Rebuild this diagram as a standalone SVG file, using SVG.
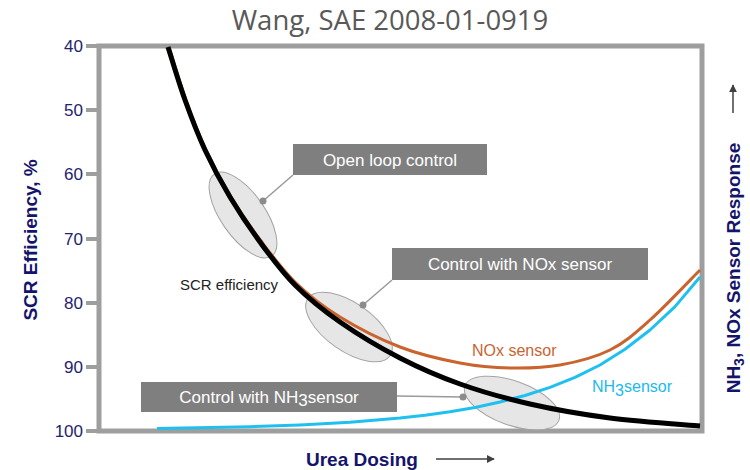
<svg xmlns="http://www.w3.org/2000/svg" width="750" height="470" viewBox="0 0 750 470">
<style>
.tick{fill:#23236e;font-family:"Liberation Sans",Arial,sans-serif;font-size:17px;text-anchor:end}
.axl{fill:#14146b;font-family:"Liberation Sans",Arial,sans-serif;font-size:19px;font-weight:bold}
.box{fill:#7f7f7f}
.btxt{fill:#ffffff;font-family:"Liberation Sans",Arial,sans-serif;font-size:17px;text-anchor:middle}
.ell{fill:#e6e6e6;stroke:#a3a3a3;stroke-width:1}
.lead{stroke:#9a9a9a;stroke-width:1.5;fill:none}
.dot{fill:#8c8c8c}
.grid{stroke:#9e9e9e;stroke-width:5;fill:none}
.tk{stroke:#9e9e9e;stroke-width:4}
</style>
<defs>
<marker id="ah" viewBox="0 0 10 10" refX="9" refY="5" markerWidth="8" markerHeight="8" markerUnits="userSpaceOnUse" orient="auto"><path d="M0,0 L10,5 L0,10 z" fill="#404040"/></marker>
</defs>
<rect width="750" height="470" fill="#ffffff"/>
<text x="390" y="30" text-anchor="middle" font-family="'Open Sans','Liberation Sans',sans-serif" font-size="27.5" fill="#595959">Wang, SAE 2008-01-0919</text>

<g id="axes">
<rect x="99" y="46" width="603" height="385" fill="#ffffff" class="grid"/>
<line class="tk" x1="86" y1="46" x2="99" y2="46"/>
<line class="tk" x1="86" y1="110" x2="99" y2="110"/>
<line class="tk" x1="86" y1="174" x2="99" y2="174"/>
<line class="tk" x1="86" y1="239" x2="99" y2="239"/>
<line class="tk" x1="86" y1="303" x2="99" y2="303"/>
<line class="tk" x1="86" y1="367" x2="99" y2="367"/>
<line class="tk" x1="86" y1="431" x2="99" y2="431"/>
<text class="tick" x="83" y="52">40</text>
<text class="tick" x="83" y="116">50</text>
<text class="tick" x="83" y="180">60</text>
<text class="tick" x="83" y="245">70</text>
<text class="tick" x="83" y="309">80</text>
<text class="tick" x="83" y="373">90</text>
<text class="tick" x="83" y="437">100</text>
<text class="axl" transform="translate(37,240) rotate(-90)" text-anchor="middle">SCR Efficiency, %</text>
<text class="axl" font-size="20" transform="translate(740,268) rotate(-90)" text-anchor="middle">NH<tspan font-size="14" dy="4">3</tspan><tspan dy="-4">, NOx Sensor Response</tspan></text>
<line x1="733" y1="113" x2="733" y2="85" stroke="#404040" stroke-width="1.5" marker-end="url(#ah)"/>
<text class="axl" x="306" y="466">Urea Dosing</text>
<line x1="436" y1="459" x2="494" y2="459" stroke="#404040" stroke-width="1.5" marker-end="url(#ah)"/>
</g>

<g id="ellipse-open"><ellipse class="ell" cx="243" cy="215" rx="50" ry="22" transform="rotate(55 243 215)"/></g>
<g id="ellipse-nox"><ellipse class="ell" cx="349" cy="327" rx="50" ry="24" transform="rotate(35 349 327)"/></g>
<g id="ellipse-nh3"><ellipse class="ell" cx="512" cy="403" rx="50" ry="22" transform="rotate(20 512 403)"/></g>

<g id="curves" fill="none" stroke-linecap="butt" stroke-linejoin="round">
<path id="nh3-curve" stroke="#1fc0f0" stroke-width="3" d="M157,428.5 L250,426.7 L300,425 L350,422.2 L400,418 L425,415.3 L450,411.8 L475,407.5 L500,402 L525,395.5 L550,387.4 L575,377.3 L600,365 L625,349.3 L650,330 L675,306.6 L700,277"/>
<path id="nox-curve" stroke="#c9642f" stroke-width="3" d="M169,47 C171.8,55.8 179.8,82.8 186,100 C192.2,117.2 198.5,133.8 206,150 C213.5,166.2 221.8,181.8 231,197 C240.2,212.2 250.2,226.7 261,241 C271.8,255.3 282.8,270.3 296,283 C309.2,295.7 322.7,306.3 340,317 C357.3,327.7 380,339.3 400,347 C420,354.7 441.7,359.5 460,363 C478.3,366.5 493.3,367.7 510,368 C526.7,368.3 543.3,368 560,365 C576.7,362 595,357.5 610,350 C625,342.5 635,333.3 650,320 C665,306.7 691.7,278.3 700,270"/>
<path id="scr-curve" stroke="#000000" stroke-width="5" d="M168,47 C170.8,55.8 178.8,82.8 185,100 C191.2,117.2 197.5,133.8 205,150 C212.5,166.2 220.8,181.7 230,197 C239.2,212.3 249.2,227.3 260,242 C270.8,256.7 281.7,271.7 295,285 C308.3,298.3 322.5,309.8 340,322 C357.5,334.2 380,347.7 400,358 C420,368.3 438.3,376.3 460,384 C481.7,391.7 505,398.3 530,404 C555,409.7 581.7,414.3 610,418 C638.3,421.7 685,424.7 700,426"/>
</g>

<g id="curve-labels" font-family="'Liberation Sans',Arial,sans-serif">
<text x="180" y="290" font-size="15" fill="#222222">SCR efficiency</text>
<text x="472" y="356" font-size="16" fill="#c9642f">NOx sensor</text>
<text x="592" y="392" font-size="16" fill="#22b8ee">NH<tspan dy="4">3</tspan><tspan dy="-4">sensor</tspan></text>
</g>

<g id="connectors">
<polyline class="lead" points="263,201 293,175"/>
<polyline class="lead" points="363,305 392,280"/>
<polyline class="lead" points="397,396 463,397"/>
<circle class="dot" cx="263" cy="201" r="3.5"/>
<circle class="dot" cx="363" cy="305" r="3.5"/>
<circle class="dot" cx="463" cy="397" r="3.5"/>
</g>

<g id="box-open"><rect class="box" x="293" y="144" width="194" height="31"/><text class="btxt" x="390" y="166">Open loop control</text></g>
<g id="box-nox"><rect class="box" x="392" y="248" width="256" height="32"/><text class="btxt" x="520" y="270">Control with NOx sensor</text></g>
<g id="box-nh3"><rect class="box" x="141" y="382" width="256" height="30"/><text class="btxt" x="269" y="403">Control with NH<tspan dy="3">3</tspan><tspan dy="-3">sensor</tspan></text></g>
</svg>
